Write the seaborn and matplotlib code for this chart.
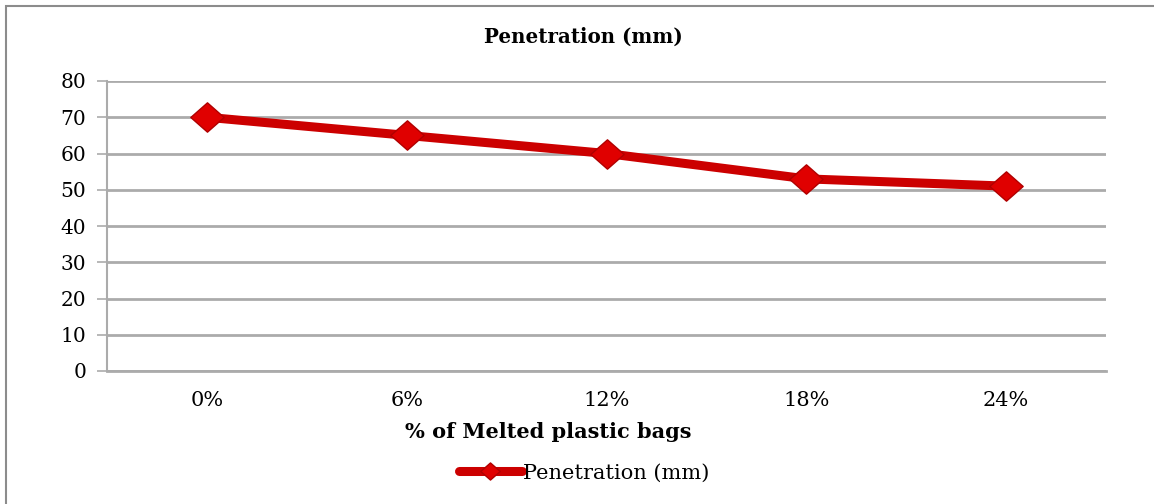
import matplotlib
matplotlib.use("Agg")
import matplotlib.pyplot as plt
from matplotlib.path import Path
from matplotlib.lines import Line2D
from matplotlib.patches import Rectangle
import seaborn as sns
import pandas as pd
import numpy as np

# Penetration results for asphalt mixes with melted plastic bags
categories = ["0%", "6%", "12%", "18%", "24%"]
penetration = [70, 65, 60, 53, 51]
y_ticks = [0, 10, 20, 30, 40, 50, 60, 70, 80]

title_text = "Penetration (mm)"
xlabel_text = "% of Melted plastic bags"
series_name = "Penetration (mm)"

df = pd.DataFrame({"pos": np.arange(len(categories)), "value": penetration})

sns.set_theme(style="white")
plt.rcParams["font.family"] = ["DejaVu Serif"]
plt.rcParams["text.color"] = "black"
plt.rcParams["xtick.color"] = "black"
plt.rcParams["ytick.color"] = "black"

LINE_RED = "#CC0000"
GRID = "#ABABAB"

# slightly flattened diamond
diamond = Path([(-1, 0), (0, -0.88), (1, 0), (0, 0.88), (-1, 0)],
               [Path.MOVETO, Path.LINETO, Path.LINETO, Path.LINETO, Path.CLOSEPOLY])

fig = plt.figure(figsize=(11.54, 5.04), dpi=100)
ax = fig.add_axes([107 / 1154, 1 - 371 / 504, (1106 - 107) / 1154, (371 - 81) / 504])

sns.lineplot(data=df, x="pos", y="value", ax=ax, color=LINE_RED, linewidth=6.5,
             marker=diamond, markersize=24, markerfacecolor="#E00000",
             markeredgecolor="#B00000", markeredgewidth=1.0, zorder=5,
             legend=False)

ax.set_xlim(-0.5, len(categories) - 0.5)
ax.set_ylim(0, 80)
ax.set_yticks(y_ticks)
ax.set_yticklabels([str(v) for v in y_ticks], fontsize=14.5, color="black")
ax.set_xticks(np.arange(len(categories)))
ax.set_xticklabels(categories, fontsize=15, color="black")
ax.set_xticks(np.arange(len(categories) + 1) - 0.5, minor=True)
ax.tick_params(axis="x", which="major", length=0, pad=14.5)
ax.tick_params(axis="x", which="minor", length=6, width=1.2, color=GRID, direction="out")
ax.tick_params(axis="y", length=7, width=1.2, color=GRID, direction="out", pad=8, left=True)

ax.yaxis.grid(True, color=GRID, linewidth=2)
ax.xaxis.grid(False)
ax.set_axisbelow(True)
for side in ["top", "right"]:
    ax.spines[side].set_visible(False)
ax.spines["left"].set_color(GRID)
ax.spines["left"].set_linewidth(1.5)
ax.spines["bottom"].set_color(GRID)
ax.spines["bottom"].set_linewidth(2)

ax.set_xlabel("")
ax.set_ylabel("")

fig.text(583 / 1154, 1 - 37 / 504, title_text, ha="center", va="center",
         fontsize=14.3, fontweight="bold", color="black")
fig.text(548 / 1154, 1 - 432 / 504, xlabel_text, ha="center", va="center",
         fontsize=15, fontweight="bold", color="black")

handle = Line2D([], [], color=LINE_RED, linewidth=6.5, marker=diamond, markersize=14,
                markerfacecolor="#E00000", markeredgecolor="#B00000")
fig.legend([handle], [series_name], loc="center", bbox_to_anchor=(584 / 1154, 1 - 473 / 504),
           frameon=False, fontsize=15, handlelength=3.0, handletextpad=0.05,
           labelcolor="black")

# chart frame
fig.patches.append(Rectangle((6 / 1154, -0.01), 1.1, 1 - 6 / 504 + 0.01,
                             transform=fig.transFigure, fill=False,
                             edgecolor="#8C8C8C", linewidth=1.5))

fig.savefig("out.png", dpi=100, facecolor="white")
